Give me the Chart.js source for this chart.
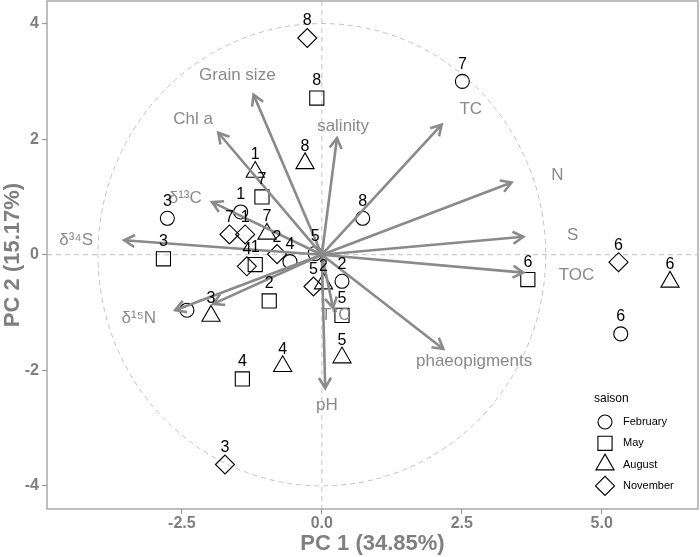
<!DOCTYPE html>
<html>
<head>
<meta charset="utf-8">
<script src="https://cdn.jsdelivr.net/npm/chart.js@4.4.1/dist/chart.umd.min.js"></script>
<style>
  html, body { margin: 0; padding: 0; background: #fff; }
</style>
</head>
<body>
<canvas id="chart" width="700" height="557"></canvas>
<script>
// axes
const X_MIN = -4.91, X_MAX = 6.72;
const Y_MIN = -4.40, Y_MAX = 4.39;
const X_TICKS = [-2.5, 0, 2.5, 5];
const X_TICK_LABELS = ["-2.5", "0.0", "2.5", "5.0"];
const Y_TICKS = [-4, -2, 0, 2, 4];
const Y_TICK_LABELS = ["-4", "-2", "0", "2", "4"];
const CIRCLE_R = 4;

// individuals (sites) by season
const SEASONS = ["February", "May", "August", "November"];
const SHAPES = ["circle", "rect", "triangle", "rectRot"];
const RADII = [7, 10, 10.5, 9.5];

const FEB_SITES = ["3", "1", "7", "8", "4", "5", "2", "6", ""];
const FEB_X = [-2.76, -1.45, 2.51, 0.73, -0.57, -0.12, 0.36, 5.34, -2.41];
const FEB_Y = [0.63, 0.74, 3.00, 0.63, -0.12, 0.02, -0.46, -1.37, -0.96];

const MAY_SITES = ["8", "7", "3", "1", "6", "2", "4", "5"];
const MAY_X = [-0.09, -1.07, -2.83, -1.19, 3.68, -0.94, -1.42, 0.36];
const MAY_Y = [2.71, 1.00, -0.07, -0.17, -0.43, -0.80, -2.15, -1.05];

const AUG_SITES = ["8", "1", "7", "6", "3", "4", "5", "2"];
const AUG_X = [-0.30, -1.19, -0.98, 6.22, -1.98, -0.70, 0.36, 0.03];
const AUG_Y = [1.58, 1.43, 0.36, -0.47, -1.06, -1.93, -1.78, -0.50];

const NOV_SITES = ["8", "7", "1", "2", "4", "6", "3", "5"];
const NOV_X = [-0.26, -1.65, -1.37, -0.80, -1.34, 5.30, -1.73, -0.15];
const NOV_Y = [3.75, 0.35, 0.35, 0.01, -0.20, -0.13, -3.63, -0.55];

// variables (arrows)
const VAR_NAMES = ["Grain size", "Chl a", "δ¹³C", "δ³⁴S", "salinity", "TC", "N", "S", "TOC",
  "phaeopigments", "pH", "δ¹⁵N", "", "T°C"];
const VAR_X = [-1.22, -1.85, -1.96, -3.53, 0.27, 2.14, 3.39, 3.60, 3.60, 2.17, 0.06, -2.62, -1.94, 0.20];
const VAR_Y = [2.77, 2.11, 0.91, 0.25, 2.02, 2.25, 1.25, 0.31, -0.31, -1.63, -2.31, -0.96, -0.85, -0.92];
const VAR_LABEL_X = [-1.51, -2.30, -2.44, -4.39, 0.38, 2.66, 4.21, 4.48, 4.55, 2.72, 0.09, -3.27, 0, 0.25];
const VAR_LABEL_Y = [3.10, 2.35, 0.98, 0.25, 2.23, 2.51, 1.38, 0.33, -0.36, -1.85, -2.61, -1.10, 0, -1.05];

const FONT = "'Liberation Sans', Arial, Helvetica, sans-serif";
const GREY = "#8a8a8a";
const AXIS_GREY = "#7f7f7f";

Chart.defaults.font.family = FONT;

function toPoints(xs, ys) {
  return xs.map((v, i) => ({ x: v, y: ys[i] }));
}

const seasonX = [FEB_X, MAY_X, AUG_X, NOV_X];
const seasonY = [FEB_Y, MAY_Y, AUG_Y, NOV_Y];
const seasonSites = [FEB_SITES, MAY_SITES, AUG_SITES, NOV_SITES];

const arrowSets = VAR_X.map((vx, i) => ({
  label: VAR_NAMES[i] || "arrow",
  data: [{ x: 0, y: 0 }, { x: vx, y: VAR_Y[i] }],
  showLine: true,
  borderColor: GREY,
  borderWidth: 2.6,
  pointRadius: 0,
  order: 0,
}));

const pointSets = SEASONS.map((s, k) => ({
  label: s,
  data: toPoints(seasonX[k], seasonY[k]),
  pointStyle: SHAPES[k],
  pointRadius: RADII[k],
  pointHoverRadius: RADII[k],
  borderColor: "#000",
  backgroundColor: "rgba(0,0,0,0)",
  pointBorderWidth: 1.1,
  order: 1,
}));

function noPadding(s) {
  s.paddingTop = 0;
  s.paddingBottom = 0;
  s.paddingLeft = 0;
  s.paddingRight = 0;
}

const biplot = {
  id: "biplot",
  beforeDatasetsDraw(chart) {
    const { ctx, chartArea: a, scales: { x, y } } = chart;
    const x0 = x.getPixelForValue(0), y0 = y.getPixelForValue(0);
    ctx.save();
    ctx.strokeStyle = "#c2c2c2";
    ctx.lineWidth = 1;
    ctx.setLineDash([5, 4]);
    ctx.beginPath();
    ctx.moveTo(a.left, y0); ctx.lineTo(a.right, y0);
    ctx.moveTo(x0, a.top); ctx.lineTo(x0, a.bottom);
    ctx.stroke();
    const rx = x.getPixelForValue(CIRCLE_R) - x0;
    const ry = y0 - y.getPixelForValue(CIRCLE_R);
    ctx.beginPath();
    ctx.ellipse(x0, y0, rx, ry, 0, 0, Math.PI * 2);
    ctx.stroke();
    ctx.restore();
  },
  afterDatasetsDraw(chart) {
    const { ctx, scales: { x, y } } = chart;
    const x0 = x.getPixelForValue(0), y0 = y.getPixelForValue(0);
    ctx.save();
    // arrow heads
    ctx.strokeStyle = GREY;
    ctx.lineWidth = 2.6;
    VAR_X.forEach((vx, i) => {
      const tx = x.getPixelForValue(vx), ty = y.getPixelForValue(VAR_Y[i]);
      const ang = Math.atan2(ty - y0, tx - x0);
      const len = 12, spread = Math.PI / 6;
      ctx.beginPath();
      ctx.moveTo(tx - len * Math.cos(ang - spread), ty - len * Math.sin(ang - spread));
      ctx.lineTo(tx, ty);
      ctx.lineTo(tx - len * Math.cos(ang + spread), ty - len * Math.sin(ang + spread));
      ctx.stroke();
    });
    // variable labels
    ctx.fillStyle = GREY;
    ctx.font = "17px " + FONT;
    ctx.textAlign = "center";
    ctx.textBaseline = "middle";
    VAR_NAMES.forEach((n, i) => {
      if (!n) return;
      ctx.fillText(n, x.getPixelForValue(VAR_LABEL_X[i]), y.getPixelForValue(VAR_LABEL_Y[i]));
    });
    // site labels
    ctx.fillStyle = "#000";
    ctx.font = "16px " + FONT;
    seasonSites.forEach((sites, k) => {
      sites.forEach((t, i) => {
        if (!t) return;
        const px = x.getPixelForValue(seasonX[k][i]);
        const py = y.getPixelForValue(seasonY[k][i]);
        ctx.fillText(t, px, py - 17);
      });
    });
    ctx.restore();
  },
  afterDraw(chart) {
    const { ctx, chartArea: a } = chart;
    ctx.save();
    ctx.strokeStyle = "#a3a3a3";
    ctx.lineWidth = 1.4;
    ctx.strokeRect(a.left, a.top, a.right - a.left, a.bottom - a.top);
    // legend
    ctx.textAlign = "left";
    ctx.textBaseline = "middle";
    ctx.fillStyle = "#000";
    ctx.font = "12px " + FONT;
    ctx.fillText("saison", 594, 399);
    ctx.font = "11px " + FONT;
    SEASONS.forEach((s, k) => {
      const ly = 422 + k * 21.3;
      ctx.fillStyle = "rgba(0,0,0,0)";
      ctx.strokeStyle = "#000";
      ctx.lineWidth = 1.1;
      Chart.helpers.drawPoint(ctx, { pointStyle: SHAPES[k], radius: RADII[k], rotation: 0, borderWidth: 1.1 }, 605, ly);
      ctx.fillStyle = "#000";
      ctx.fillText(s, 623, ly);
    });
    ctx.restore();
  },
};

new Chart(document.getElementById("chart"), {
  type: "scatter",
  data: { datasets: arrowSets.concat(pointSets) },
  plugins: [biplot],
  options: {
    responsive: false,
    animation: false,
    devicePixelRatio: 1,
    layout: { autoPadding: false, padding: { top: 1, right: 2, left: 0, bottom: 0 } },
    plugins: { legend: { display: false }, tooltip: { enabled: false } },
    scales: {
      x: {
        type: "linear",
        min: X_MIN,
        max: X_MAX,
        afterBuildTicks: (s) => { s.ticks = X_TICKS.map((v) => ({ value: v })); },
        afterFit: (s) => { s.height = 48; noPadding(s); },
        grid: { drawOnChartArea: false, color: "#9a9a9a", tickColor: "#9a9a9a", tickLength: 5, tickWidth: 1.2 },
        border: { display: false },
        ticks: {
          autoSkip: false, maxRotation: 0, padding: 0, color: AXIS_GREY,
          font: { size: 16, weight: "bold" },
          callback: (v, i) => X_TICK_LABELS[i],
        },
        title: {
          display: true, text: "PC 1 (34.85%)", color: AXIS_GREY, padding: 0,
          font: { size: 22, weight: "bold" },
        },
      },
      y: {
        type: "linear",
        min: Y_MIN,
        max: Y_MAX,
        afterBuildTicks: (s) => { s.ticks = Y_TICKS.map((v) => ({ value: v })); },
        afterFit: (s) => { s.width = 47; noPadding(s); },
        grid: { drawOnChartArea: false, color: "#9a9a9a", tickColor: "#9a9a9a", tickLength: 5, tickWidth: 1.2 },
        border: { display: false },
        ticks: {
          autoSkip: false, padding: 3, color: AXIS_GREY,
          font: { size: 16, weight: "bold" },
          callback: (v, i) => Y_TICK_LABELS[i],
        },
        title: {
          display: true, text: "PC 2 (15.17%)", color: AXIS_GREY, padding: 0,
          font: { size: 22, weight: "bold" },
        },
      },
    },
  },
});
</script>
</body>
</html>
